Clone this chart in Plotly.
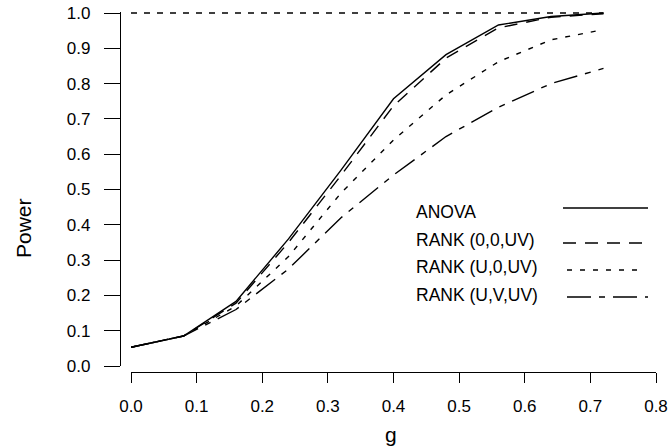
import plotly.graph_objects as go

# ---- data ----
g = [0.0, 0.08, 0.16, 0.24, 0.32, 0.40, 0.48, 0.56, 0.64, 0.72]
anova = [0.053, 0.085, 0.183, 0.360, 0.555, 0.757, 0.882, 0.966, 0.990, 1.000]
rank_00uv = [0.053, 0.085, 0.178, 0.350, 0.540, 0.737, 0.872, 0.958, 0.988, 0.998]
rank_u0uv = [0.053, 0.085, 0.170, 0.310, 0.490, 0.640, 0.768, 0.862, 0.924, 0.953]
rank_uvuv = [0.053, 0.085, 0.160, 0.275, 0.420, 0.541, 0.650, 0.733, 0.800, 0.843]
series_names = ["ANOVA", "RANK (0,0,UV)", "RANK (U,0,UV)", "RANK (U,V,UV)"]
series_vals = [anova, rank_00uv, rank_u0uv, rank_uvuv]
reference_level = 1.0
x_ticks = [0.0, 0.1, 0.2, 0.3, 0.4, 0.5, 0.6, 0.7, 0.8]
y_ticks = [0.0, 0.1, 0.2, 0.3, 0.4, 0.5, 0.6, 0.7, 0.8, 0.9, 1.0]

# ---- styling ----
W, H = 668, 446
ML, MR, MT, MB = 120, 12, 12, 74
PW, PH = W - ML - MR, H - MT - MB
FONT = "Liberation Sans, Arial, sans-serif"
dashes = ["solid", "13px,9px", "5px,8px", "24px,8px,6px,8px"]
LW = 1.4


def px(xp):
    return (xp - ML) / PW


def py(yp):
    return 1 - (yp - MT) / PH


fig = go.Figure()

# reference line at power = 1
fig.add_trace(go.Scatter(x=[g[0], g[-1]], y=[reference_level, reference_level],
                         mode="lines", line=dict(color="black", width=LW, dash="6px,7px"),
                         showlegend=False, hoverinfo="skip"))

for name, vals, d in zip(series_names, series_vals, dashes):
    fig.add_trace(go.Scatter(x=g, y=vals, mode="lines", name=name,
                             line=dict(color="black", width=LW, dash=d),
                             showlegend=False))

# manual legend (text + line samples)
leg_text_y = [212, 240, 267, 295]
leg_line_y = [208, 243, 270, 297]
leg_line_x = [(563, 648), (563, 648), (567, 640), (567, 648)]
annotations = []
shapes = []
for name, ty, ly, (x0, x1), d in zip(series_names, leg_text_y, leg_line_y, leg_line_x, dashes):
    annotations.append(dict(x=px(414), y=py(ty), xref="paper", yref="paper",
                            text=name, showarrow=False, xanchor="left", yanchor="middle",
                            font=dict(family=FONT, size=17.5, color="black")))
    shapes.append(dict(type="line", xref="paper", yref="paper",
                       x0=px(x0), x1=px(x1), y0=py(ly), y1=py(ly),
                       line=dict(color="black", width=LW, dash=d)))

# axis titles
annotations.append(dict(x=px(23), y=py(228), xref="paper", yref="paper", text="Power",
                        showarrow=False, textangle=-90, xanchor="center", yanchor="middle",
                        font=dict(family=FONT, size=21, color="black")))
annotations.append(dict(x=px(391), y=py(434), xref="paper", yref="paper", text="g",
                        showarrow=False, xanchor="center", yanchor="middle",
                        font=dict(family=FONT, size=21, color="black")))

x_dom0 = (131 - ML) / PW
y_dom0 = (H - MB - 366) / PH
y_top = (366 - MT) / 353.0

fig.update_layout(
    width=W, height=H,
    margin=dict(l=ML, r=MR, t=MT, b=MB, pad=0),
    paper_bgcolor="white", plot_bgcolor="white",
    showlegend=False,
    annotations=annotations, shapes=shapes,
    xaxis=dict(domain=[x_dom0, 1], anchor="free", position=0,
               range=[0, 0.8], tickvals=x_ticks, tickformat=".1f",
               showline=True, linecolor="black", linewidth=1.2,
               ticks="outside", ticklen=10, tickwidth=1.2, tickcolor="black",
               ticklabelstandoff=8, automargin=False,
               showgrid=False, zeroline=False,
               tickfont=dict(family=FONT, size=17, color="black")),
    yaxis=dict(domain=[y_dom0, 1], anchor="free", position=0,
               range=[0, y_top], tickvals=y_ticks, tickformat=".1f",
               showline=True, linecolor="black", linewidth=1.2,
               ticks="outside", ticklen=16, tickwidth=1.2, tickcolor="black",
               ticklabelstandoff=10, automargin=False,
               showgrid=False, zeroline=False,
               tickfont=dict(family=FONT, size=17, color="black")),
)

fig.write_html("out.html", config={"displayModeBar": False},
               post_script="document.body.style.margin='0';document.body.style.overflow='hidden';")
